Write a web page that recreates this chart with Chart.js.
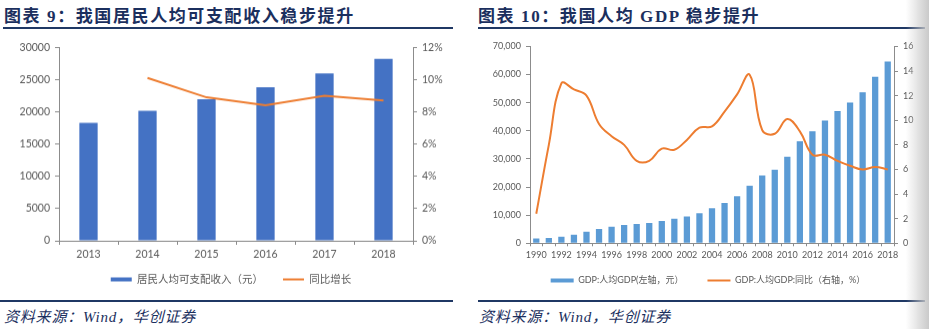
<!DOCTYPE html>
<html><head><meta charset="utf-8">
<script src="https://cdn.jsdelivr.net/npm/chart.js@4"></script>
<style>
html,body{margin:0;padding:0;background:#fff;width:929px;height:329px;overflow:hidden;position:relative}
.title{position:absolute;top:2px;font-weight:bold;font-size:17px;font-family:"Liberation Serif","Noto Sans CJK SC",serif;color:#1b2f5e;letter-spacing:1.6px;white-space:nowrap}
.rule{position:absolute;background:#1f3864}
.src{position:absolute;top:305px;font-style:italic;font-size:15px;font-family:"Liberation Serif","Noto Sans CJK SC",serif;color:#1b2f5e;letter-spacing:0.8px;white-space:nowrap}
canvas{position:absolute}
#shade{position:absolute;left:906px;top:0;width:23px;height:329px;background:linear-gradient(to right,rgba(255,255,255,0),#c9c9c9)}
</style></head><body>
<div class="title" style="left:4px">图表 9：我国居民人均可支配收入稳步提升</div>
<div class="rule" style="left:3px;top:27px;width:450px;height:2px"></div>
<div class="title" style="left:478px">图表 10：我国人均 GDP 稳步提升</div>
<div class="rule" style="left:478px;top:27px;width:447px;height:2px"></div>
<div class="rule" style="left:0;top:300px;width:453px;height:2px"></div>
<div class="rule" style="left:478px;top:300px;width:447px;height:2px"></div>
<div class="src" style="left:4px">资料来源：Wind，华创证券</div>
<div class="src" style="left:479px">资料来源：Wind，华创证券</div>
<div style="position:absolute;left:0;top:36px;width:462px;height:272.5px"><canvas id="c1"></canvas></div>
<div style="position:absolute;left:478px;top:36px;width:460px;height:278.3px"><canvas id="c2"></canvas></div>
<div id="shade"></div>
<script>
// ---- Chart 9 data ----
const years1 = ['2013','2014','2015','2016','2017','2018'];
const income = [18311, 20167, 21966, 23821, 25974, 28228];
const incomeGrowth = [null, 10.1, 8.9, 8.4, 9.0, 8.7];
const incomeTicksLeft = [0, 30000, 5000];
const incomeTicksRight = [0, 12, 2];

// ---- Chart 10 data ----
const years2 = ['1990','1991','1992','1993','1994','1995','1996','1997','1998','1999','2000','2001','2002','2003','2004','2005','2006','2007','2008','2009','2010','2011','2012','2013','2014','2015','2016','2017','2018'];
const gdpPerCapita = [1663,1912,2334,3027,4081,5091,5898,6481,6860,7229,7942,8717,9506,10666,12487,14368,16738,20494,24100,26180,30808,36302,39874,43684,47005,50028,53680,59201,64644];
const gdpGrowth = [2.4,8.0,13.0,12.5,12.0,9.7,8.7,8.0,6.7,6.7,7.7,7.6,8.4,9.4,9.5,10.7,12.1,13.7,9.2,8.9,10.1,9.1,7.2,7.2,6.7,6.3,6.0,6.2,6.0];
const gdpTicksLeft = [0, 70000, 10000];
const gdpTicksRight = [0, 16, 2];

const GREY = '#595959', AX = '#8c8c8c';
const FONT = 'Lato, "Noto Sans CJK SC", sans-serif';

const legendPos = {id:'legendPos', afterLayout(chart, args, opts){
  const l = chart.legend; if (!l || opts.top == null) return;
  const h = l.bottom - l.top; l.top = opts.top; l.bottom = opts.top + h;
}};

function legendLabels(chart){
  const items = Chart.defaults.plugins.legend.labels.generateLabels(chart);
  items.forEach(it=>{
    const ds = chart.data.datasets[it.datasetIndex];
    if (ds.type === 'line'){ it.pointStyle='line'; it.lineWidth=2; it.strokeStyle=ds.borderColor; }
    else { it.pointStyle='rect'; it.lineWidth=0; it.fillStyle=ds.backgroundColor; }
  });
  return items;
}
function yAxis(pos, t, fs, width, cb){
  return {position:pos, min:t[0], max:t[1],
    afterFit: s=>{ s.width = width; },
    border:{display:true,color:AX,width:1},
    grid:{display:true,drawOnChartArea:false,drawTicks:true,tickLength:4,color:AX},
    ticks:{stepSize:t[2],color:GREY,font:{family:FONT,size:fs},padding:5,callback:cb}};
}

new Chart(document.getElementById('c1'), {
  type:'bar',
  plugins:[legendPos],
  data:{labels:years1, datasets:[
    {type:'line', label:'同比增长', data:incomeGrowth, yAxisID:'y1', borderColor:'#ED7D31', borderWidth:2, pointRadius:0, tension:0},
    {type:'bar', label:'居民人均可支配收入（元）', data:income, yAxisID:'y', backgroundColor:'#4472C4', barPercentage:0.31, categoryPercentage:1}
  ]},
  options:{responsive:true, maintainAspectRatio:false, animation:false,
    layout:{padding:{top:4,left:0,right:0,bottom:4}},
    plugins:{tooltip:{enabled:false}, legendPos:{top:217.2},
      legend:{position:'bottom', reverse:true,
        labels:{usePointStyle:true, pointStyleWidth:21, boxHeight:4, padding:20, color:GREY, font:{family:FONT,size:10.5}, generateLabels:legendLabels}}},
    scales:{
      x:{afterFit: s=>{ s.height = 24; }, border:{display:true,color:AX},
        grid:{display:true,drawOnChartArea:false,drawTicks:true,tickLength:4,color:AX,offset:true},
        ticks:{color:GREY,font:{family:FONT,size:10.5},padding:3}},
      y: yAxis('left', incomeTicksLeft, 10.5, 59, v=>v),
      y1: yAxis('right', incomeTicksRight, 10.5, 49, v=>v+'%')
    }}
});

new Chart(document.getElementById('c2'), {
  type:'bar',
  plugins:[legendPos],
  data:{labels:years2, datasets:[
    {type:'line', label:'GDP:人均GDP:同比（右轴，%）', data:gdpGrowth, yAxisID:'y1', borderColor:'#ED7D31', borderWidth:2, pointRadius:0, tension:0.4},
    {type:'bar', label:'GDP:人均GDP(左轴，元）', data:gdpPerCapita, yAxisID:'y', backgroundColor:'#5B9BD5', barPercentage:0.5, categoryPercentage:1}
  ]},
  options:{responsive:true, maintainAspectRatio:false, animation:false,
    layout:{padding:{top:5,left:0,right:0,bottom:4}},
    plugins:{tooltip:{enabled:false}, legendPos:{top:216},
      legend:{position:'bottom', reverse:true,
        labels:{usePointStyle:true, pointStyleWidth:23, boxHeight:4, padding:24, color:GREY, font:{family:FONT,size:9}, generateLabels:legendLabels}}},
    scales:{
      x:{afterFit: s=>{ s.height = 24; }, border:{display:true,color:AX},
        grid:{display:true,drawOnChartArea:false,drawTicks:true,tickLength:3,color:AX,offset:true},
        ticks:{color:GREY,font:{family:FONT,size:9},padding:3,autoSkip:false,maxRotation:0,
          callback:function(v,i){ return i%2===0 ? this.getLabelForValue(v) : ''; }}},
      y: yAxis('left', gdpTicksLeft, 9, 52, v=>v.toLocaleString('en-US')),
      y1: yAxis('right', gdpTicksRight, 9, 44, v=>v)
    }}
});
</script>
</body></html>
